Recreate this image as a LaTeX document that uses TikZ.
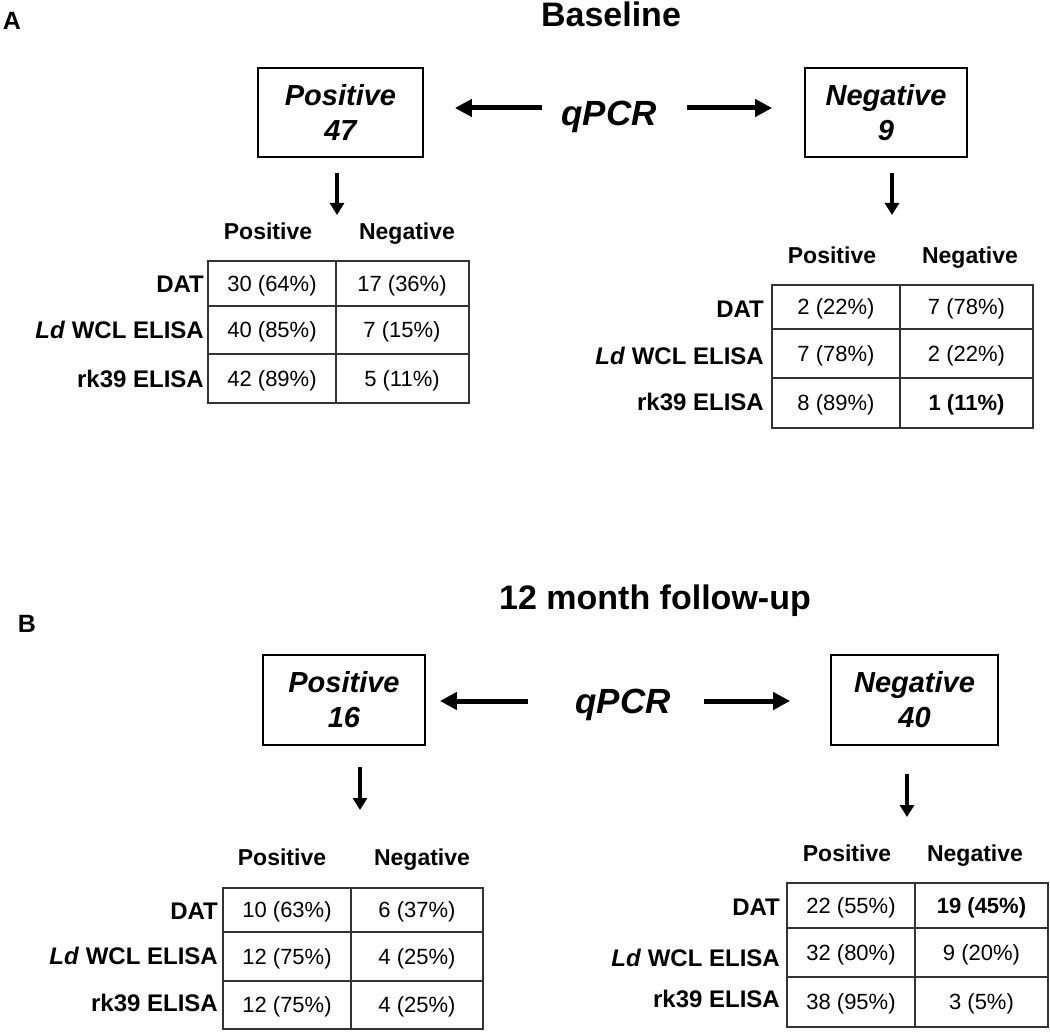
\documentclass[tikz,border=0pt]{standalone}
\usepackage{fontspec}
\setmainfont{Liberation Sans}
\usetikzlibrary{arrows.meta}
\tikzset{
 box/.style={draw, line width=1.8pt, minimum height=89pt, inner sep=0pt, align=center, font=\fontsize{29}{35}\selectfont\bfseries\itshape},
 qpcr/.style={font=\fontsize{35}{40}\selectfont\bfseries\itshape, inner sep=0pt, text height=25pt, text depth=0pt},
 ttl/.style={font=\fontsize{34}{40}\selectfont\bfseries, inner sep=0pt, text height=24.3pt, text depth=0pt},
 panel/.style={font=\fontsize{25}{30}\selectfont\bfseries, inner sep=0pt, text height=17.9pt, text depth=0pt},
 hdr/.style={font=\fontsize{23}{27}\selectfont\bfseries, inner sep=0pt, text height=16.5pt, text depth=0pt},
 cell/.style={font=\fontsize{22}{26}\selectfont, inner sep=0pt, text height=15.8pt, text depth=0pt},
 rowlab/.style={font=\fontsize{24}{28}\selectfont\bfseries, inner sep=0pt, anchor=east, text height=17.2pt, text depth=0pt},
 tgrid/.style={draw=black!80, line width=2.2pt},
 harr/.style={line width=5pt, -{Triangle[length=17pt,width=17pt]}},
 darr/.style={line width=3.5pt, -{Triangle[length=12pt,width=14pt]}},
}
\begin{document}
\begin{tikzpicture}[x=1pt,y=-1pt]
\path[use as bounding box] (0,0) rectangle (1050,1032);

% ---------------- Panel A ----------------
\node[panel] (lblA) at (12,21) {A};
\node[ttl] (ttlA) at (611,14) {Baseline};
\node[box, minimum width=165pt] (posA) at (340.5,112.5) {Positive\\47};
\node[box, minimum width=162pt] (negA) at (886,112.5) {Negative\\9};
\node[qpcr] (qA) at (609,113.5) {qPCR};
\coordinate (qAl) at (542,108);
\coordinate (qAr) at (687,108);
\draw[harr, shorten >=31pt] (qAl) -- (qAl -| posA.east);
\draw[harr, shorten >=32pt] (qAr) -- (qAr -| negA.west);
\coordinate (tlTop) at (337,215);
\coordinate (trTop) at (892,215);
\draw[darr] (tlTop |- posA.south) ++(0,15) -- (tlTop);
\draw[darr] (trTop |- negA.south) ++(0,15) -- (trTop);

% top-left table
\node[hdr] (tlHP) at (268,231) {Positive};
\node[hdr] (tlHN) at (407,231) {Negative};
\draw[tgrid] (208,261) rectangle (469,403);
\draw[tgrid] (336,261) -- (336,403);
\draw[tgrid] (208,306) -- (469,306);
\draw[tgrid] (208,354) -- (469,354);
\node[rowlab] (tlL1) at (204,283.5) {DAT};
\node[rowlab] (tlL2) at (204,330) {\textit{Ld} WCL ELISA};
\node[rowlab] (tlL3) at (204,378.5) {rk39 ELISA};
\node[cell] (tl11) at (272,283.5) {30 (64\%)};
\node[cell] (tl12) at (402,283.5) {17 (36\%)};
\node[cell] (tl21) at (272,330) {40 (85\%)};
\node[cell] (tl22) at (402,330) {7 (15\%)};
\node[cell] (tl31) at (272,378.5) {42 (89\%)};
\node[cell] (tl32) at (402,378.5) {5 (11\%)};

% top-right table
\node[hdr] (trHP) at (832,255) {Positive};
\node[hdr] (trHN) at (970,255) {Negative};
\draw[tgrid] (772,285) rectangle (1033,428);
\draw[tgrid] (900,285) -- (900,428);
\draw[tgrid] (772,329) -- (1033,329);
\draw[tgrid] (772,378) -- (1033,378);
\node[rowlab] (trL1) at (764,309) {DAT};
\node[rowlab] (trL2) at (764,356) {\textit{Ld} WCL ELISA};
\node[rowlab] (trL3) at (764,402) {rk39 ELISA};
\node[cell] (tr11) at (836,307) {2 (22\%)};
\node[cell] (tr12) at (966.5,307) {7 (78\%)};
\node[cell] (tr21) at (836,353.5) {7 (78\%)};
\node[cell] (tr22) at (966.5,353.5) {2 (22\%)};
\node[cell] (tr31) at (836,403) {8 (89\%)};
\node[cell] (tr32) at (966.5,403) {\bfseries 1 (11\%)};

% ---------------- Panel B ----------------
\node[panel] (lblB) at (27,624) {B};
\node[ttl] (ttlB) at (655,597) {12 month follow-up};
\node[box, minimum width=162pt, minimum height=90pt] (posB) at (344,700) {Positive\\16};
\node[box, minimum width=167pt, minimum height=90pt] (negB) at (914.5,700) {Negative\\40};
\node[qpcr] (qB) at (623,701) {qPCR};
\coordinate (qBl) at (528,701);
\coordinate (qBr) at (704,701);
\draw[harr, shorten >=14pt] (qBl) -- (qBl -| posB.east);
\draw[harr, shorten >=40pt] (qBr) -- (qBr -| negB.west);
\coordinate (blTop) at (360,810);
\coordinate (brTop) at (907,817);
\draw[darr] (blTop |- posB.south) ++(0,21) -- (blTop);
\draw[darr] (brTop |- negB.south) ++(0,28) -- (brTop);

% bottom-left table
\node[hdr] (blHP) at (282,857) {Positive};
\node[hdr] (blHN) at (422,857) {Negative};
\draw[tgrid] (223,888) rectangle (483,1029);
\draw[tgrid] (351,888) -- (351,1029);
\draw[tgrid] (223,932) -- (483,932);
\draw[tgrid] (223,981) -- (483,981);
\node[rowlab] (blL1) at (218,911) {DAT};
\node[rowlab] (blL2) at (218,956) {\textit{Ld} WCL ELISA};
\node[rowlab] (blL3) at (218,1003) {rk39 ELISA};
\node[cell] (bl11) at (287,910) {10 (63\%)};
\node[cell] (bl12) at (417,910) {6 (37\%)};
\node[cell] (bl21) at (287,956.5) {12 (75\%)};
\node[cell] (bl22) at (417,956.5) {4 (25\%)};
\node[cell] (bl31) at (287,1005) {12 (75\%)};
\node[cell] (bl32) at (417,1005) {4 (25\%)};

% bottom-right table
\node[hdr] (brHP) at (847,853) {Positive};
\node[hdr] (brHN) at (975,853) {Negative};
\draw[tgrid] (787,883) rectangle (1048,1027);
\draw[tgrid] (915,883) -- (915,1027);
\draw[tgrid] (787,928) -- (1048,928);
\draw[tgrid] (787,977) -- (1048,977);
\node[rowlab] (brL1) at (780,907) {DAT};
\node[rowlab] (brL2) at (780,958) {\textit{Ld} WCL ELISA};
\node[rowlab] (brL3) at (780,999) {rk39 ELISA};
\node[cell] (br11) at (851,905.5) {22 (55\%)};
\node[cell] (br12) at (981.5,905.5) {\bfseries 19 (45\%)};
\node[cell] (br21) at (851,952.5) {32 (80\%)};
\node[cell] (br22) at (981.5,952.5) {9 (20\%)};
\node[cell] (br31) at (851,1002) {38 (95\%)};
\node[cell] (br32) at (981.5,1002) {3 (5\%)};
\end{tikzpicture}
\end{document}
